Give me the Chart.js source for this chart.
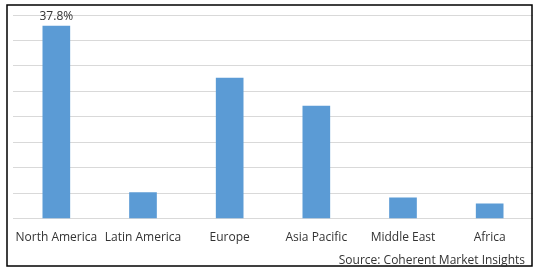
<!DOCTYPE html>
<html>
<head>
<meta charset="utf-8">
<script src="https://cdn.jsdelivr.net/npm/chart.js@4"></script>
<style>
    html, body { margin: 0; padding: 0; background: #fff; }
    #wrap { position: relative; width: 538px; height: 272px; }
    #source {
        position: absolute;
        right: 13px;
        top: 252px;
        font: 12px "Open Sans", sans-serif;
        color: #333;
        line-height: 16px;
        white-space: nowrap;
    }
</style>
</head>
<body>
<div id="wrap">
    <canvas id="chart" width="538" height="272"></canvas>
    <div id="source">Source: Coherent Market Insights</div>
</div>
<script>
const regions = ['North America', 'Latin America', 'Europe', 'Asia Pacific', 'Middle East', 'Africa'];
const shares = [37.8, 5.1, 27.6, 22.1, 4.1, 2.9];
const shareLabels = ['37.8%', '', '', '', '', ''];
const yTicks = [0, 5, 10, 15, 20, 25, 30, 35, 40];

// frame around the whole picture
const framePlugin = {
    id: 'frame',
    afterDraw(chart) {
        const ctx = chart.ctx;
        ctx.save();
        ctx.strokeStyle = '#000';
        ctx.lineWidth = 1.5;
        ctx.strokeRect(7, 5, 525, 261);
        ctx.restore();
    }
};

// value label above a bar, only where one is given
const barLabels = {
    id: 'barLabels',
    afterDatasetsDraw(chart) {
        const ctx = chart.ctx;
        const meta = chart.getDatasetMeta(0);
        ctx.save();
        ctx.font = '12px "Open Sans"';
        ctx.fillStyle = '#333';
        ctx.textAlign = 'center';
        ctx.textBaseline = 'middle';
        meta.data.forEach((bar, i) => {
            if (shareLabels[i]) ctx.fillText(shareLabels[i], bar.x, bar.y - 10);
        });
        ctx.restore();
    }
};

new Chart(document.getElementById('chart'), {
    type: 'bar',
    data: {
        labels: regions,
        datasets: [{
            data: shares,
            backgroundColor: '#5B9BD5',
            barThickness: 27
        }]
    },
    options: {
        responsive: false,
        animation: false,
        layout: { padding: { left: 13, right: 5, top: 15, bottom: 23 } },
        plugins: {
            legend: { display: false },
            tooltip: { enabled: false }
        },
        scales: {
            x: {
                grid: { display: false },
                border: { display: false },
                ticks: {
                    color: '#333',
                    font: { family: 'Open Sans', size: 12 },
                    padding: 4,
                    maxRotation: 0
                }
            },
            y: {
                min: 0,
                max: 40,
                afterBuildTicks(axis) { axis.ticks = yTicks.map(v => ({ value: v })); },
                ticks: { display: false },
                grid: { color: '#d9d9d9', lineWidth: 1, drawTicks: false },
                border: { display: false }
            }
        }
    },
    plugins: [framePlugin, barLabels]
});
</script>
</body>
</html>
